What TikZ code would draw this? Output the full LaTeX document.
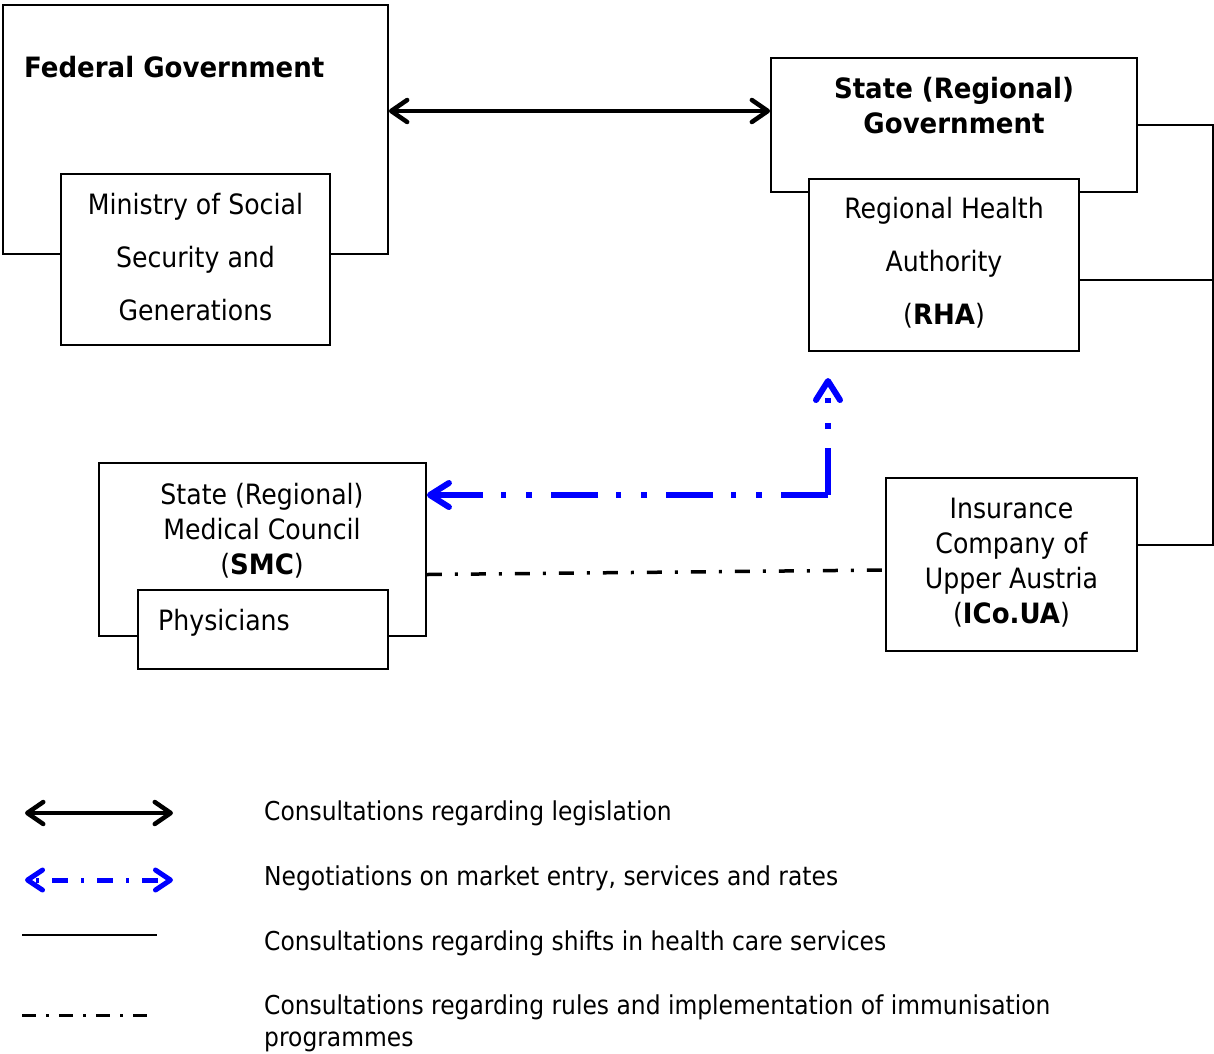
\documentclass[tikz,border=0pt]{standalone}
\usepackage{fontspec}
\setmainfont[FakeStretch=0.9, BoldFeatures={FakeStretch=0.93}]{DejaVu Sans}
\usepackage{tikz}
\usetikzlibrary{arrows.meta}
\usetikzlibrary{positioning}

\definecolor{negblue}{RGB}{0,0,255}

\tikzset{
	box/.style={draw=black, fill=white, line width=1.8pt, inner sep=0pt},
	txt/.style={align=center, inner sep=0pt, font=\fontsize{28}{35}\selectfont},
	widetxt/.style={align=center, inner sep=0pt, font=\fontsize{28}{53}\selectfont},
	headtxt/.style={align=center, inner sep=0pt, font=\fontsize{28}{35}\selectfont\bfseries},
	legtxt/.style={anchor=west, align=left, inner sep=0pt, font=\fontsize{26}{32}\selectfont},
	legisbarb/.tip={Straight Barb[length=16pt,width=22pt,round]},
	negbarb/.tip={Straight Barb[length=19pt,width=24pt,round]},
	consult/.style={line width=4.5pt, legisbarb-legisbarb},
	negot/.style={draw=negblue, line width=6pt, dash pattern=on 47pt off 19pt on 6pt off 20pt on 5pt off 18pt, -negbarb},
	shifts/.style={line width=1.8pt},
	immun/.style={line width=3.5pt, dash pattern=on 15pt off 13pt on 3pt off 13pt}
}

\begin{document}
\begin{tikzpicture}[x=1pt, y=-1pt]
	\useasboundingbox (0,0) rectangle (1214,1053);
	
	% federal level
	\node [box, minimum width=385pt, minimum height=249pt] (fed) at (195.5, 129.5) {};
	\node [headtxt, anchor=west] (fedtxt) at (24, 67) {Federal Government};
	\node [box, minimum width=269pt, minimum height=171pt] (min) at (195.5, 259.5) {};
	\node [widetxt] (mintxt) at (195.5, 257.5) {Ministry of Social\\Security and\\Generations};
	
	% regional level
	\node [box, minimum width=366pt, minimum height=134pt] (sgov) at (954, 125) {};
	\node [headtxt] (sgovtxt) at (954, 105.5) {State (Regional)\\Government};
	\node [box, minimum width=270pt, minimum height=172pt] (rha) at (944, 265) {};
	\node [widetxt] (rhatxt) at (944, 263) {Regional Health\\Authority\\(\textbf{RHA})};
	
	% council and insurance
	\node [box, minimum width=327pt, minimum height=173pt] (smc) at (262.5, 549.5) {};
	\node [txt] (smctxt) at (262, 530.5) {State (Regional)\\Medical Council\\(\textbf{SMC})};
	\node [box, minimum width=250pt, minimum height=79pt] (phys) at (263, 629.5) {};
	\node [txt, anchor=west] (physTxt) at (158, 623) {Physicians};
	\node [box, minimum width=251pt, minimum height=173pt] (ico) at (1011.5, 564.5) {};
	\node [txt] (icotxt) at (1011.5, 563) {Insurance\\Company of\\Upper Austria\\(\textbf{ICo.UA})};
	
	% connectors
	\coordinate (legis) at (580, 111);
	\draw [consult] (fed.east |- legis) to (sgov.west |- legis);
	
	\coordinate (busT) at (1213, 125);
	\coordinate (busM) at (1213, 280);
	\coordinate (busB) at (1213, 545);
	\draw [shifts] (sgov.east) -- (busT) -- (busB) -- (ico.east |- busB);
	\draw [shifts] (rha.east |- busM) -- (busM);
	
	\coordinate (negcorner) at (828, 495);
	\coordinate (negtip) at (828, 378);
	\draw [negot] (negcorner) to (smc.east |- negcorner);
	\draw [negot] (negcorner) to (negtip);
	
	\draw [immun] ([yshift=-25pt]smc.east) to ([yshift=-5.5pt]ico.west);
	
	% key
	\coordinate (k1a) at (25, 813);
	\coordinate (k1b) at (173, 813);
	\coordinate (k2a) at (25, 880);
	\coordinate (k2b) at (173, 880);
	\coordinate (k3a) at (22, 935);
	\coordinate (k3b) at (157, 935);
	\coordinate (k4a) at (22, 1015);
	\coordinate (k4b) at (157, 1015);
	\draw [consult] (k1a) to (k1b);
	\draw [draw=negblue, line width=5pt, dash pattern=on 3pt off 13pt on 16pt off 13pt, dash phase=-6pt, {Straight Barb[length=15pt,width=20pt,round]}-{Straight Barb[length=15pt,width=20pt,round]}] (k2a) to (k2b);
	\draw [shifts] (k3a) to (k3b);
	\draw [line width=3pt, dash pattern=on 14pt off 10pt on 3pt off 10pt] (k4a) to (k4b);
	
	\node [legtxt] (l1) at (264, 813) {Consultations regarding legislation};
	\node [legtxt] (l2) at (264, 878) {Negotiations on market entry, services and rates};
	\node [legtxt] (l3) at (264, 943) {Consultations regarding shifts in health care services};
	\node [legtxt] (l4) at (264, 1023) {Consultations regarding rules and implementation of immunisation\\programmes};
	
\end{tikzpicture}
\end{document}
